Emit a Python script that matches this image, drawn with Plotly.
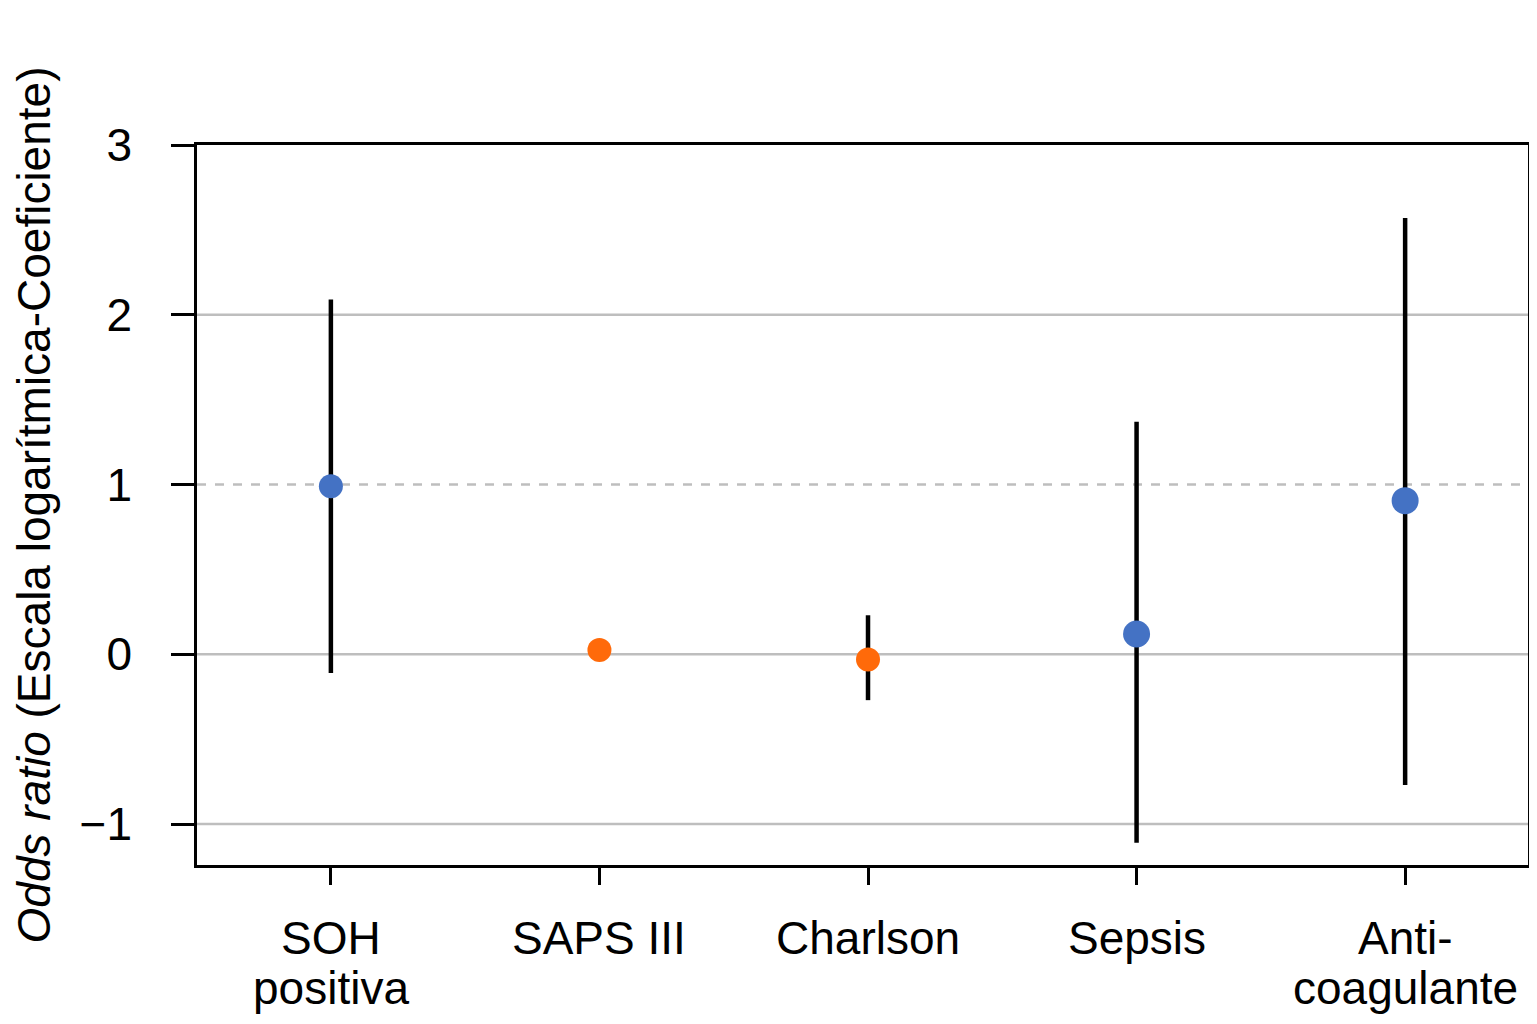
import plotly.graph_objects as go

categories = [["SOH", "positiva"], ["SAPS III"], ["Charlson"], ["Sepsis"], ["Anti-", "coagulante"]]
positions = [1, 2, 3, 4, 5]
estimate = [0.99, 0.025, -0.03, 0.12, 0.905]
lower = [-0.11, 0.01, -0.27, -1.11, -0.77]
upper = [2.09, 0.04, 0.23, 1.37, 2.57]
marker_colors = ["#4472C4", "#FF6A0A", "#FF6A0A", "#4472C4", "#4472C4"]
marker_sizes = [24, 24, 24, 27, 27]
ytick_vals = [3, 2, 1, 0, -1]
grid_solid = [2, 0, -1]
grid_dashed = [1]

fig = go.Figure()
fig.add_trace(go.Scatter(
    x=positions, y=estimate, mode="markers",
    marker=dict(color=marker_colors, size=marker_sizes, opacity=1, line=dict(width=0)),
    error_y=dict(type="data", symmetric=False,
                 array=[u - e for u, e in zip(upper, estimate)],
                 arrayminus=[e - l for e, l in zip(estimate, lower)],
                 color="black", thickness=4.5, width=0),
    showlegend=False,
))

shapes = []
for g in grid_solid:
    shapes.append(dict(type="line", xref="paper", x0=0, x1=1, yref="y", y0=g, y1=g,
                       line=dict(color="#BEBEBE", width=2.5), layer="below"))
for g in grid_dashed:
    shapes.append(dict(type="line", xref="paper", x0=0, x1=1, yref="y", y0=g, y1=g,
                       line=dict(color="#BEBEBE", width=2.5, dash="dash"), layer="below"))

annotations = []
for pos, lines in zip(positions, categories):
    for i, line in enumerate(lines):
        annotations.append(dict(x=pos, xref="x", y=0, yref="paper", text=line,
                                showarrow=False, xanchor="center", yanchor="middle",
                                yshift=-73 - 50 * i, font=dict(size=46)))

fig.update_layout(
    width=1521, height=1008,
    margin=dict(l=189, r=1, t=137, b=151),
    paper_bgcolor="white", plot_bgcolor="white",
    font=dict(family="Liberation Sans, Arial, sans-serif", size=46, color="black"),
    shapes=shapes,
    annotations=annotations,
    xaxis=dict(range=[0.5015, 5.4575], tickvals=positions, showticklabels=False,
               showgrid=False, zeroline=False, showline=True, mirror=True, automargin=False,
               linecolor="black", linewidth=2.5, ticks="outside", ticklen=17,
               tickwidth=2.5, tickcolor="black"),
    yaxis=dict(range=[-1.241, 3], tickvals=ytick_vals, automargin=False,
               showgrid=False, zeroline=False, showline=True, mirror=True,
               linecolor="black", linewidth=2.5, ticks="outside", ticklen=23,
               tickwidth=2.5, tickcolor="black", ticklabelstandoff=30,
               tickfont=dict(size=46),
               title=dict(text="<i>Odds ratio</i> (Escala logarítmica-Coeficiente)",
                          font=dict(size=46), standoff=36)),
)

fig.write_html("out.html")
